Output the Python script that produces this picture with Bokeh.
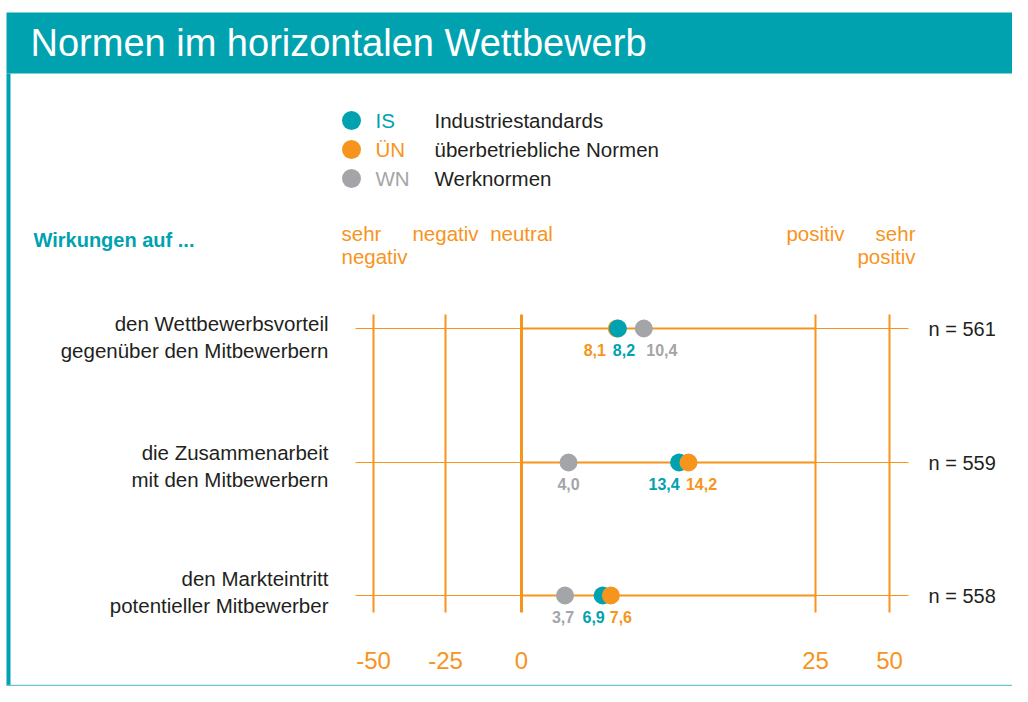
import numpy as np
from bokeh.plotting import figure
from bokeh.models import Range1d, ColumnDataSource
from bokeh.core.properties import value
from bokeh.embed import file_html
from bokeh.resources import INLINE

# ---------------- data ----------------
title = "Normen im horizontalen Wettbewerb"
series_codes = ["IS", "ÜN", "WN"]
series_names = ["Industriestandards", "überbetriebliche Normen", "Werknormen"]
categories = ["den Wettbewerbsvorteil\ngegenüber den Mitbewerbern",
              "die Zusammenarbeit\nmit den Mitbewerbern",
              "den Markteintritt\npotentieller Mitbewerber"]
is_vals = [8.2, 13.4, 6.9]
un_vals = [8.1, 14.2, 7.6]
wn_vals = [10.4, 4.0, 3.7]
n_vals = [561, 559, 558]
ticks = [-50, -25, 0, 25, 50]
scale_labels = ["sehr\nnegativ", "negativ", "neutral", "positiv", "sehr\npositiv"]
header_label = "Wirkungen auf ..."

# ---------------- style / layout ----------------
TEAL = "#00A2B0"
ORANGE = "#F7941D"
GRAY = "#A3A5A8"
BLACK = "#231F20"
FONT = "Liberation Sans"
series_colors = [TEAL, ORANGE, GRAY]

# piecewise scale of the chart (value -> page x)
scale_pos = [373, 445, 521, 815, 889]
def X(v):
    return np.interp(np.asarray(v, dtype=float), ticks, scale_pos)

row_y = [328, 462, 595]
# label nudges (px) to avoid overlap: per row, per series (IS, ÜN, WN)
label_dx = [[6, -22, 18], [-15, 13, 0], [-9, 10, -2]]
cat_line_off = [(-5, 22), (-10, 17), (-17, 10)]

p = figure(width=1012, height=686, x_range=Range1d(0, 1012), y_range=Range1d(686, 0),
           output_backend="svg", toolbar_location=None, min_border=0,
           x_axis_type=None, y_axis_type=None)
p.grid.visible = False
p.outline_line_color = None
p.background_fill_color = "white"
p.border_fill_color = "white"

# title bar + frame
p.quad(left=6, right=1012, top=12, bottom=73, color=TEAL, line_color=None)
p.quad(left=6, right=10, top=73, bottom=686, color=TEAL, line_color=None)
p.segment(x0=6, y0=685, x1=1012, y1=685, line_color="#6CC4CC", line_width=1.5)
p.text(x=[30], y=[42], text=[title], text_color="white", text_font=value(FONT),
       text_font_size="38px", text_baseline="middle", text_align="left")

# legend
leg_y = [120, 149, 178]
p.scatter(x=[351] * 3, y=leg_y, size=19, color=series_colors, line_color=None)
p.text(x=[375] * 3, y=leg_y, text=series_codes, text_color=series_colors,
       text_font=value(FONT), text_font_size="20.5px", text_baseline="middle")
p.text(x=[434] * 3, y=leg_y, text=series_names, text_color=BLACK,
       text_font=value(FONT), text_font_size="20.5px", text_baseline="middle")

# header
p.text(x=[33], y=[239], text=[header_label], text_color=TEAL, text_font=value(FONT),
       text_font_size="20px", text_font_style="bold", text_baseline="middle")
aligns = ["left", "center", "center", "center", "right"]
nudges = [-32, 0, 0, 0, 26]
for t, lab, al, dx in zip(ticks, scale_labels, aligns, nudges):
    for i, line in enumerate(lab.split("\n")):
        p.text(x=[float(X(t)) + dx], y=[233 + 23 * i], text=[line], text_color=ORANGE,
               text_font=value(FONT), text_font_size="20.5px", text_baseline="middle",
               text_align=al)

# grid lines of the scale
y_top, y_bot = 314, 612
for t in ticks:
    p.segment(x0=[float(X(t))], y0=[y_top], x1=[float(X(t))], y1=[y_bot],
              line_color=ORANGE, line_width=3 if t == 0 else 2)
for ry in row_y:
    p.segment(x0=355, y0=ry, x1=908, y1=ry, line_color=ORANGE, line_width=1)
    p.segment(x0=float(X(0)), y0=ry, x1=float(X(25)), y1=ry, line_color=ORANGE, line_width=2)

# tick labels
p.text(x=X(ticks), y=[660] * len(ticks), text=[str(t) for t in ticks], text_color=ORANGE,
       text_font=value(FONT), text_font_size="24px", text_baseline="middle",
       text_align="center")

# category labels and n
for ry, cat, off in zip(row_y, categories, cat_line_off):
    for line, o in zip(cat.split("\n"), off):
        p.text(x=[328], y=[ry + o], text=[line], text_color=BLACK, text_font=value(FONT),
               text_font_size="20.5px", text_baseline="middle", text_align="right")
p.text(x=[928] * 3, y=row_y, text=[f"n = {n}" for n in n_vals], text_color=BLACK,
       text_font=value(FONT), text_font_size="20px", text_baseline="middle")

# points (drawn in ascending value order per row) + value labels
xs, ys, cs, ly, lt, ldx = [], [], [], [], [], []
for r, ry in enumerate(row_y):
    pts = [(v, c, s) for s, (v, c) in enumerate(zip([is_vals[r], un_vals[r], wn_vals[r]], series_colors))]
    for v, c, s in sorted(pts):
        xs.append(float(X(v))); ys.append(ry); cs.append(c)
        lt.append(f"{v:.1f}".replace(".", ",")); ly.append(ry + 21); ldx.append(label_dx[r][s])
src = ColumnDataSource(dict(x=xs, y=ys, c=cs, ly=ly, t=lt, dx=ldx))
p.scatter(x="x", y="y", size=18, color="c", line_color=None, source=src)
p.text(x="x", y="ly", text="t", x_offset="dx", text_color="c", source=src,
       text_font=value(FONT), text_font_size="16px", text_font_style="bold",
       text_baseline="middle", text_align="center")

open("out.html", "w").write(file_html(p, INLINE))
